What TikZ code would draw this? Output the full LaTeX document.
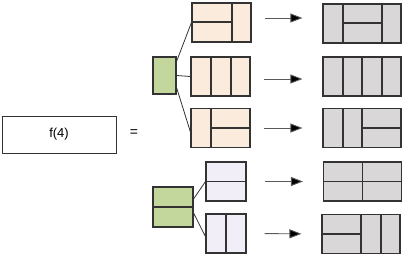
\documentclass[tikz,border=0pt]{standalone}
\usepackage{fontspec}
\setmainfont{Liberation Sans}
\usetikzlibrary{arrows.meta,calc}
\definecolor{peach}{HTML}{FBEBDD}
\definecolor{lav}{HTML}{F1EEF8}
\definecolor{grayf}{HTML}{D9D7D7}
\definecolor{greenf}{HTML}{C3D69B}
\definecolor{edge}{HTML}{333333}
\begin{document}
\begin{tikzpicture}[x=1pt,y=-1pt,
  bx/.style={draw=edge,line width=1.1pt,inner sep=0pt,minimum width=#1},
  pbox/.style={bx=59pt,fill=peach,minimum height=39pt},
  lbox/.style={bx=40pt,fill=lav,minimum height=39pt},
  rbox/.style={bx=78pt,fill=grayf,minimum height=39pt},
  gbox/.style={bx=23pt,fill=greenf,minimum height=37pt},
  gbox2/.style={bx=40pt,fill=greenf,minimum height=40pt},
  inner/.style={draw=edge,line width=1.2pt},
  conn/.style={draw=edge,line width=0.8pt},
  arr/.style={draw=gray!70!black,line width=0.9pt,-{Triangle[length=12pt,width=9pt,fill=black]},shorten <=13pt,shorten >=20pt}
]
\useasboundingbox (0,0) rectangle (407,258);
% f(4) and =
\node[draw=edge,line width=0.8pt,minimum width=114pt,minimum height=37pt,inner sep=0pt,font=\fontsize{13}{15}\selectfont] (f) at (59,134.5) {f(4)};
\node[font=\fontsize{14}{16}\selectfont] (eq) at (134,133) {=};
% green boxes
\node[gbox] (g1) at (164.5,75.5) {};
\node[gbox2] (g2) at (173,207) {};
\draw[inner] (g2.west) -- (g2.east);
% peach boxes
\node[pbox] (b1) at (221.5,22.5) {};
\draw[inner] (232,3) -- (232,42) (192,22) -- (232,22);
\node[pbox] (b2) at (220.5,76.5) {};
\draw[inner] (211,57) -- (211,96) (231,57) -- (231,96);
\node[pbox] (b3) at (220.5,128) {};
\draw[inner] (211,108.5) -- (211,147.5) (211,128) -- (250,128);
% lavender boxes
\node[lbox] (b4) at (226,181.5) {};
\draw[inner] (b4.west) -- (b4.east);
\node[lbox] (b5) at (226,233.5) {};
\draw[inner] (b5.north) -- (b5.south);
% right gray boxes
\node[rbox] (r1) at (362,23.5) {};
\draw[inner] (343,4) -- (343,43) (382,4) -- (382,43) (343,23) -- (382,23);
\node[rbox] (r2) at (362,76.5) {};
\draw[inner] (343,57) -- (343,96) (362,57) -- (362,96) (382,57) -- (382,96);
\node[rbox] (r3) at (362,128) {};
\draw[inner] (343,108.5) -- (343,147.5) (362,108.5) -- (362,147.5) (362,128) -- (401,128);
\node[rbox] (r4) at (362.5,181.5) {};
\draw[inner] (r4.north) -- (r4.south) (r4.west) -- (r4.east);
\node[rbox] (r5) at (361,234) {};
\draw[inner] (361,214.5) -- (361,253.5) (381,214.5) -- (381,253.5) (322,234) -- (361,234);
% connectors
\draw[conn] ($(g1.north east)+(0,5)$) -- (b1.west);
\draw[conn] (g1.east) -- (b2.west);
\draw[conn] ($(g1.south east)+(0,-7)$) -- ($(b3.west)+(0,4)$);
\draw[conn] ($(g2.east)+(0,-8)$) -- (b4.west);
\draw[conn] ($(g2.east)+(0,6)$) -- ($(b5.west)+(0,3)$);
% arrows
\draw[arr] (b1.east |- 0,18) -- (r1.west |- 0,18);
\draw[arr] (b2.east |- 0,79) -- (r2.west |- 0,79);
\draw[arr] (b3.east |- 0,128) -- (r3.west |- 0,128);
\draw[arr] ($(b4.east)+(5,0)$) -- (r4.west);
\draw[arr] ($(b5.east)+(5,0)$) -- (r5.west);
\end{tikzpicture}
\end{document}
